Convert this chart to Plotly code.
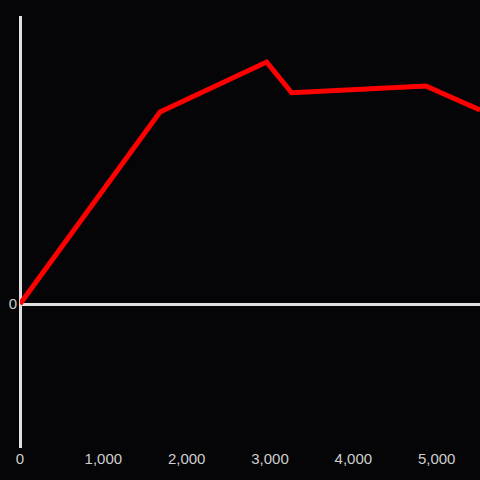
import plotly.graph_objects as go

# series
x_vals = [0, 1680, 2960, 3260, 4870, 5520]
y_vals = [0, 200, 252, 220, 227, 202]

x_ticks = [0, 1000, 2000, 3000, 4000, 5000]
y_ticks = [0]

bg = "#050407"
axis_col = "#e0e0e0"
tick_font = dict(family="Liberation Sans, Arial, sans-serif", size=15, color="#cfcfcf")

fig = go.Figure()
fig.add_trace(
    go.Scatter(
        x=x_vals,
        y=y_vals,
        mode="lines",
        line=dict(color="#ff0000", width=5),
        hoverinfo="skip",
    )
)

fig.update_xaxes(
    range=[0, 5520],
    tickvals=x_ticks,
    tickformat=",",
    showgrid=False,
    zeroline=True,
    zerolinecolor=axis_col,
    zerolinewidth=3,
    showline=False,
    ticks="",
    tickfont=tick_font,
)
fig.update_yaxes(
    range=[-150, 300],
    tickvals=y_ticks,
    showgrid=False,
    zeroline=True,
    zerolinecolor=axis_col,
    zerolinewidth=3,
    showline=False,
    ticks="",
    ticklabelstandoff=2,
    tickfont=tick_font,
)

fig.update_layout(
    width=480,
    height=480,
    paper_bgcolor=bg,
    plot_bgcolor=bg,
    margin=dict(l=20, r=0, t=16, b=32),
    showlegend=False,
)

# drop the page's default body margin so the chart fills the window
fig.write_html(
    "out.html",
    config={"displayModeBar": False},
    post_script="document.body.style.margin='0';document.body.style.background='%s';" % bg,
)
